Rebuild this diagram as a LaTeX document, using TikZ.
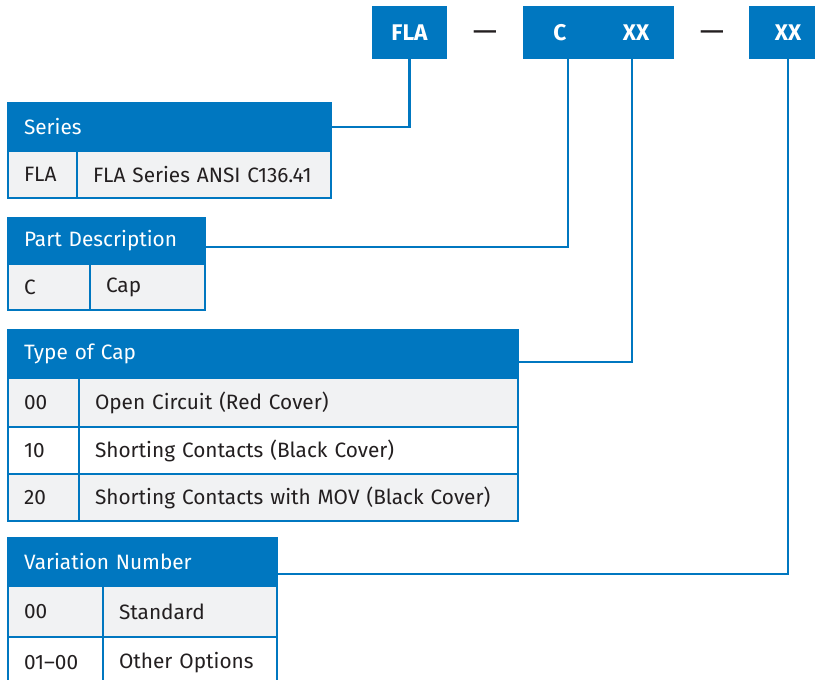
\documentclass[tikz,border=0pt]{standalone}
\usepackage{fontspec}
\setmainfont{Fira Sans}
\usepackage{xcolor}
\usetikzlibrary{positioning,calc}

\definecolor{brand}{HTML}{0077C0}
\definecolor{rowgray}{HTML}{F1F2F3}
\definecolor{ink}{HTML}{231F20}

\tikzset{
  codebox/.style={fill=brand, text=white, font=\fontsize{17}{20}\selectfont\bfseries,
    minimum height=39.75pt, inner sep=0pt},
  codetext/.style={text=white, font=\fontsize{17}{20}\selectfont\bfseries, inner sep=0pt},
  dashmark/.style={text=ink, font=\fontsize{23}{26}\selectfont, inner sep=0pt},
  headbox/.style={fill=brand, draw=brand, line width=1.5pt, text=white, anchor=north west,
    align=left, inner xsep=12pt, inner ysep=0pt, font=\fontsize{15.6}{18}\selectfont},
  cellbox/.style={draw=brand, line width=1.5pt, text=ink, anchor=north west,
    align=left, inner xsep=12pt, inner ysep=0pt, font=\fontsize{15.6}{18}\selectfont},
  lead/.style={draw=brand, line width=1.8pt},
}

\begin{document}
\begin{tikzpicture}[x=0.75pt, y=-0.75pt]
    \useasboundingbox (0,0) rectangle (815,680);

    % part number code
    \node[codebox, minimum width=56.25pt] (flabox) at (409.5,32.5) {FLA};
    \node[dashmark] (dash1) at (485,36) {—};
    \node[codebox, minimum width=113.25pt] (cxxbox) at (598.5,32.5) {};
    \node[codetext] (ctext) at (560,33) {C};
    \node[codetext] (xxtext) at (636,33) {XX};
    \node[dashmark] (dash2) at (712,36) {—};
    \node[codebox, minimum width=58.5pt] (varbox) at (788,32.5) {XX};
    \coordinate (cpin) at (568,59);
    \coordinate (xxpin) at (632,59);

    % Series
    \node[headbox, minimum height=36pt, text width=218.25pt] (serhd) at (7,102) {Series};
    \node[cellbox, fill=rowgray, minimum height=35.25pt, text width=27.75pt] (sera) at (7,150) {FLA};
    \node[cellbox, fill=rowgray, minimum height=35.25pt, text width=166.5pt] (serb) at (76,150) {FLA Series ANSI C136.41};

    % Part Description
    \node[headbox, minimum height=34.5pt, text width=123.75pt] (parthd) at (7,217) {Part Description};
    \node[cellbox, fill=rowgray, minimum height=34.5pt, text width=37.5pt] (parta) at (7,263) {C};
    \node[cellbox, fill=rowgray, minimum height=34.5pt, text width=62.25pt] (partb) at (89,263) {Cap};

    % Type of Cap
    \node[headbox, minimum height=36pt, text width=358.5pt] (caphd) at (7,329) {Type of Cap};
    \node[cellbox, fill=rowgray, minimum height=36.75pt, text width=29.25pt] (capa1) at (7,377) {00};
    \node[cellbox, fill=rowgray, minimum height=36.75pt, text width=305.25pt] (capb1) at (78,377) {Open Circuit (Red Cover)};
    \node[cellbox, fill=white, minimum height=35.25pt, text width=29.25pt] (capa2) at (7,426) {10};
    \node[cellbox, fill=white, minimum height=35.25pt, text width=305.25pt] (capb2) at (78,426) {Shorting Contacts (Black Cover)};
    \node[cellbox, fill=rowgray, minimum height=35.25pt, text width=29.25pt] (capa3) at (7,473) {20};
    \node[cellbox, fill=rowgray, minimum height=35.25pt, text width=305.25pt] (capb3) at (78,473) {Shorting Contacts with MOV (Black Cover)};

    % Variation Number
    \node[headbox, minimum height=36pt, text width=177.75pt] (varhd) at (7,537) {Variation Number};
    \node[cellbox, fill=rowgray, minimum height=38.25pt, text width=47.25pt] (vara1) at (7,585) {00};
    \node[cellbox, fill=rowgray, minimum height=38.25pt, text width=106.5pt] (varb1) at (102,585) {Standard};
    \node[cellbox, fill=white, minimum height=38.25pt, text width=47.25pt] (vara2) at (7,636) {01–00};
    \node[cellbox, fill=white, minimum height=38.25pt, text width=106.5pt] (varb2) at (102,636) {Other Options};

    % leads
    \draw[lead] (serhd.east) -| (flabox.south);
    \draw[lead] ([yshift=-4.5pt]parthd.east) -| (cpin);
    \draw[lead] ([yshift=-6pt]caphd.east) -| (xxpin);
    \draw[lead] ([yshift=-9pt]varhd.east) -| (varbox.south);
\end{tikzpicture}
\end{document}
